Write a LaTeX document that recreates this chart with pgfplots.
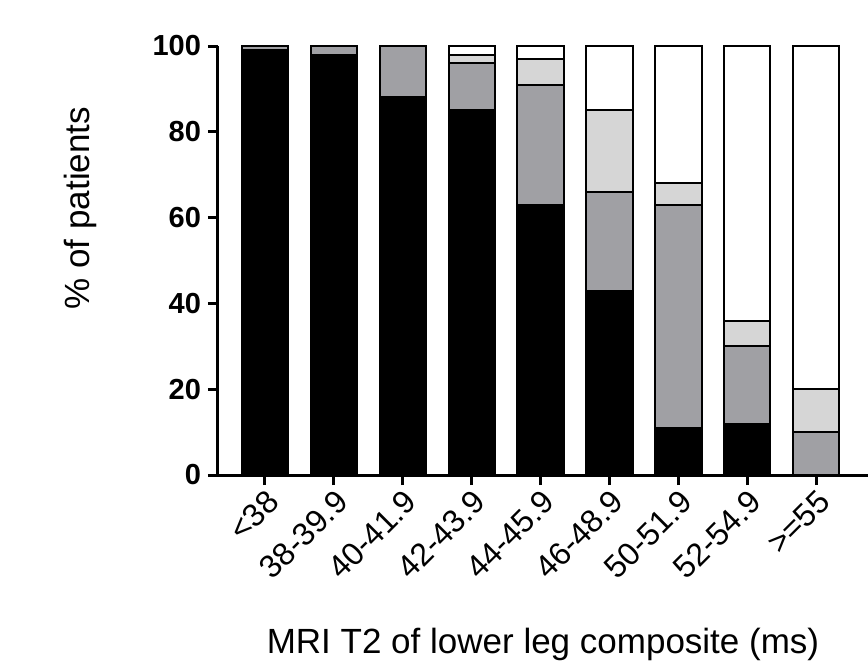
\documentclass[border=0pt]{standalone}
\usepackage{fontspec}
\setmainfont{Liberation Sans}
\usepackage{pgfplots}
\pgfplotsset{compat=1.18}
\definecolor{darkgr}{HTML}{A0A0A4}
\definecolor{lightgr}{HTML}{D6D6D6}
\begin{document}
\begin{tikzpicture}
\path[use as bounding box] (-109pt,-97.5pt) rectangle (325pt,237.5pt);
\begin{axis}[
  scale only axis, width=325pt, height=214.5pt,
  ybar stacked, bar width=0.67,
  xmin=-0.68, xmax=8.75, ymin=0, ymax=100,
  axis lines=left, axis line style={-, line width=1.5pt},
  xtick={0,...,8},
  xticklabels={<38,38-39.9,40-41.9,42-43.9,44-45.9,46-48.9,50-51.9,52-54.9,>=55},
  ytick={0,20,...,100},
  tick align=outside, major tick length=5pt,
  tick style={line width=1.5pt, black},
  x tick label style={rotate=45, anchor=north east, inner sep=1pt, font=\fontsize{16}{19}\selectfont},
  y tick label style={font=\fontsize{14.5}{17}\selectfont\bfseries},
  /pgf/number format/assume math mode=true,
  ylabel={\% of patients},
  xlabel={MRI T2 of lower leg composite (ms)},
  label style={font=\fontsize{17.5}{21}\selectfont},
  ylabel style={at={(rel axis cs:-0.212,0.622)}, anchor=center},
  xlabel style={at={(rel axis cs:0.5,-0.396)}, anchor=center},
  every axis plot/.append style={draw=black, line width=1pt},
  clip=false,
]
% black, dark grey, light grey, white (bottom to top)
\addplot[fill=black] coordinates {(0,99) (1,98) (2,88) (3,85) (4,63) (5,43) (6,11) (7,12) (8,0)};
\addplot[fill=darkgr] coordinates {(0,1) (1,2) (2,12) (3,11) (4,28) (5,23) (6,52) (7,18) (8,10)};
\addplot[fill=lightgr] coordinates {(0,0) (1,0) (2,0) (3,2) (4,6) (5,19) (6,5) (7,6) (8,10)};
\addplot[fill=white] coordinates {(0,0) (1,0) (2,0) (3,2) (4,3) (5,15) (6,32) (7,64) (8,80)};
\end{axis}
\end{tikzpicture}
\end{document}
